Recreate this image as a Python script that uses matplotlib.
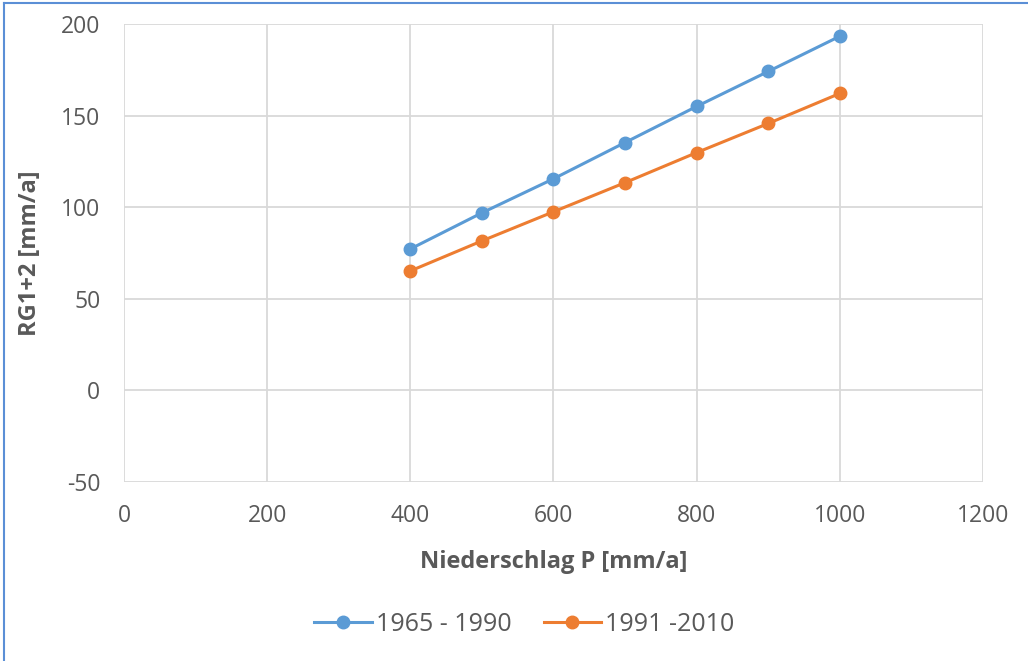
import matplotlib.pyplot as plt
from matplotlib.lines import Line2D

# Daten
niederschlag = [400, 500, 600, 700, 800, 900, 1000]
rg_1965_1990 = [77.2, 96.9, 115.5, 135.3, 155.0, 174.1, 193.3]
rg_1991_2010 = [65.2, 81.6, 97.5, 113.4, 129.8, 145.7, 162.1]
serien = ['1965 - 1990', '1991 -2010']
x_ticks = [0, 200, 400, 600, 800, 1000, 1200]
y_ticks = [-50, 0, 50, 100, 150, 200]

plt.rcParams['font.family'] = ['Open Sans', 'DejaVu Sans']
plt.rcParams['axes.unicode_minus'] = False
grau = '#595959'

fig = plt.figure(figsize=(10.28, 6.61), dpi=100)
ax = fig.add_axes([0.1206, 0.2708, 0.8356, 0.6929])

ax.plot(niederschlag, rg_1965_1990, '-o', color='#5B9BD5', lw=2.2, ms=9,
        label=serien[0], zorder=3)
ax.plot(niederschlag, rg_1991_2010, '-o', color='#ED7D31', lw=2.2, ms=9,
        label=serien[1], zorder=3)

ax.set_xlim(0, 1200)
ax.set_ylim(-50, 200)
ax.set_xticks(x_ticks)
ax.set_yticks(y_ticks)
ax.grid(True, color='#D9D9D9', lw=1.3)
for s in ax.spines.values():
    s.set_visible(False)
ax.tick_params(length=0, labelsize=16.5, labelcolor=grau)
ax.tick_params(axis='x', pad=16)
ax.tick_params(axis='y', pad=17)

ax.set_xlabel('Niederschlag P [mm/a]', fontsize=17, fontweight='bold',
              color=grau, labelpad=16)
ax.set_ylabel('RG1+2 [mm/a]', fontsize=17, fontweight='bold',
              color=grau, labelpad=14)

fig.legend(loc='center', bbox_to_anchor=(0.51, 0.055), ncol=2, frameon=False,
           fontsize=18, labelcolor=grau, handlelength=2.3, handletextpad=0.15,
           columnspacing=1.3)

# Rahmen (links und oben sichtbar)
fig.add_artist(Line2D([0.004, 0.004], [0, 0.995], color='#5B8FD6', lw=1.5,
                      transform=fig.transFigure))
fig.add_artist(Line2D([0.004, 1], [0.995, 0.995], color='#5B8FD6', lw=1.5,
                      transform=fig.transFigure))

fig.savefig('out.png', dpi=100)
